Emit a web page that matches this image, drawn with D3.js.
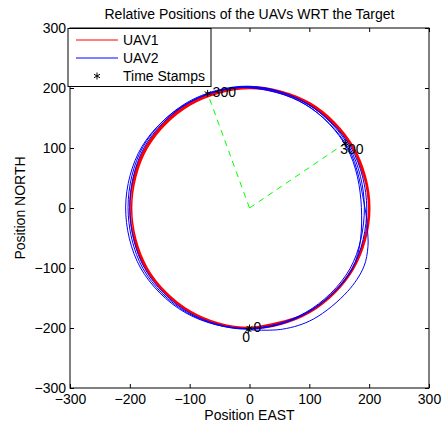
<!DOCTYPE html>
<html><head><meta charset="utf-8">
<script src="https://cdn.jsdelivr.net/npm/d3@7"></script>
<style>body{margin:0;background:#fff}text{font-family:"Liberation Sans",Arial,sans-serif}</style>
</head><body><svg id="c" width="446" height="427"></svg>
<script>
// ---- data (East, North) ----
const uav1East = [0,100,173,200,173,100,0,-100,-173,-200,-173,-100,
  1,100,172,199,172,100,1,-99,-171,-197,-171,-99,
  0,101,174,201,174,101,0,-101,-174,-200,-174,-101,
  1,101,174,201,174,167];
const uav1North = [-200,-173,-100,0,100,173,200,173,100,0,-100,-173,
  -199,-172,-100,0,100,172,199,172,100,0,-100,-172,
  -200,-173,-100,1,101,175,202,175,101,1,-100,-173,
  -201,-174,-101,-1,99,111];
const uav2East = [-2,55,107,164,191,198,197,193,165,94,-4,-105,-180,-207,-182,-108,
  -6,94,168,192,167,96,-3,-104,-178,-203,-178,-105,
  -4,96,171,196,170,98,-2,-102,-176,-200,-175,-102,
  -3,97,172,187,163,93,-6,-70];
const uav2North = [-203,-202,-185,-139,-98,-64,-35,0,100,172,201,174,102,2,-100,-174,
  -201,-174,-101,1,101,174,203,176,102,1,-101,-174,
  -202,-175,-102,0,100,173,202,175,101,0,-101,-174,
  -201,-174,-101,1,100,173,201,191];
const stampTimes = ["0","0","300","300"];
const stampEast  = [0,-2,160,-70];
const stampNorth = [-200,-203,108,191];
const xTicks = [-300,-200,-100,0,100,200,300];
const yTicks = [-300,-200,-100,0,100,200,300];
const seriesNames = ["UAV1","UAV2","Time Stamps"];

// ---- layout ----
const svg = d3.select("#c");
const L=70,R=429,T=28,B=388;
const x = d3.scaleLinear().domain([-300,300]).range([L,R]);
const y = d3.scaleLinear().domain([-300,300]).range([B,T]);
const fs = 14;

function pts(E,N){return E.map((e,i)=>[e,N[i]]);}
const line = d3.line().x(d=>x(d[0])).y(d=>y(d[1])).curve(d3.curveCatmullRom.alpha(0.5));

svg.append("rect").attr("x",L).attr("y",T).attr("width",R-L).attr("height",B-T).attr("fill","#fff");

// green dashed lines from origin to final positions
[2,3].forEach(i=>{
  svg.append("line").attr("x1",x(0)).attr("y1",y(0)).attr("x2",x(stampEast[i])).attr("y2",y(stampNorth[i]))
    .attr("stroke","#00ff00").attr("stroke-width",1).attr("stroke-dasharray","6,5");
});

svg.append("path").attr("d",line(pts(uav1East,uav1North))).attr("fill","none").attr("stroke","#ff0000").attr("stroke-width",1.5);
svg.append("path").attr("d",line(pts(uav2East,uav2North))).attr("fill","none").attr("stroke","#0000ff").attr("stroke-width",1);

// stars + labels
function drawStar(g,cx,cy){
  const r=3.5;
  for(let k=0;k<3;k++){
    const a=Math.PI/3*k+Math.PI/2;
    g.append("line").attr("x1",cx-r*Math.cos(a)).attr("y1",cy-r*Math.sin(a))
      .attr("x2",cx+r*Math.cos(a)).attr("y2",cy+r*Math.sin(a)).attr("stroke","#000").attr("stroke-width",1);
  }
}
const labDx=[4,-6,-5,5], labDy=[-1,7,6,-1];
stampTimes.forEach((t,i)=>{
  const cx=x(stampEast[i]), cy=y(stampNorth[i]);
  drawStar(svg,cx,cy);
  svg.append("text").attr("x",cx+labDx[i]).attr("y",cy+labDy[i]).attr("dy","0.35em")
    .attr("font-size",fs).attr("fill","#000").text(t);
});

// axes
const ax = svg.append("g");
ax.append("g").attr("transform",`translate(0,${B})`).call(d3.axisBottom(x).tickValues(xTicks).tickSizeInner(-4).tickSizeOuter(0).tickPadding(6))
  .call(g=>g.selectAll("text").attr("font-size",fs).attr("fill","#000"));
ax.append("g").attr("transform",`translate(${L},0)`).call(d3.axisLeft(y).tickValues(yTicks).tickSizeInner(-4).tickSizeOuter(0).tickPadding(4))
  .call(g=>g.selectAll("text").attr("font-size",fs).attr("fill","#000"));
ax.append("g").attr("transform",`translate(0,${T})`).call(d3.axisTop(x).tickValues(xTicks).tickSizeInner(-4).tickSizeOuter(0).tickFormat(""));
ax.append("g").attr("transform",`translate(${R},0)`).call(d3.axisRight(y).tickValues(yTicks).tickSizeInner(-4).tickSizeOuter(0).tickFormat(""));
ax.selectAll(".domain").remove();
ax.selectAll("line").attr("stroke","#000");
svg.append("rect").attr("x",L).attr("y",T).attr("width",R-L).attr("height",B-T).attr("fill","none").attr("stroke","#000").attr("stroke-width",1);

// labels
svg.append("text").attr("x",(L+R)/2).attr("y",19).attr("text-anchor","middle").attr("font-size",fs).text("Relative Positions of the UAVs WRT the Target");
svg.append("text").attr("x",(L+R)/2).attr("y",420).attr("text-anchor","middle").attr("font-size",fs).text("Position EAST");
svg.append("text").attr("transform",`translate(25,${(T+B)/2}) rotate(-90)`).attr("text-anchor","middle").attr("font-size",fs).text("Position NORTH");

// legend
const lg = svg.append("g");
lg.append("rect").attr("x",68).attr("y",28.5).attr("width",143).attr("height",58).attr("fill","#fff").attr("stroke","#000").attr("stroke-width",1);
lg.append("line").attr("x1",76).attr("x2",118).attr("y1",40).attr("y2",40).attr("stroke","#ff0000");
lg.append("line").attr("x1",76).attr("x2",118).attr("y1",58).attr("y2",58).attr("stroke","#0000ff");
drawStar(lg,97,76);
seriesNames.forEach((n,i)=>{
  lg.append("text").attr("x",123).attr("y",40+18*i).attr("dy","0.35em").attr("font-size",fs).text(n);
});
</script></body></html>
